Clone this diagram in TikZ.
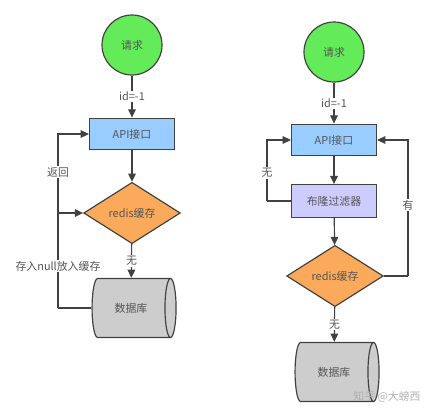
\documentclass[tikz,border=0pt]{standalone}
\usepackage{fontspec}
\setmainfont{Noto Sans CJK SC}
\usetikzlibrary{arrows.meta,shapes.geometric,positioning}
\definecolor{reqgreen}{RGB}{100,235,90}
\definecolor{apiblue}{RGB}{153,204,255}
\definecolor{bloomlav}{RGB}{204,204,255}
\definecolor{cacheorange}{RGB}{250,170,90}
\definecolor{dbgray}{RGB}{205,205,205}
\definecolor{edgegray}{RGB}{65,65,65}
\definecolor{textgray}{RGB}{85,85,85}

\begin{document}
\begin{tikzpicture}[x=0.03cm,y=-0.03cm,
  every node/.style={font=\fontsize{9.3}{11}\selectfont,text=textgray},
  req/.style={circle,draw=edgegray,line width=1pt,fill=reqgreen,minimum size=1.8cm,inner sep=0pt},
  api/.style={rectangle,draw=edgegray,line width=1pt,fill=apiblue,minimum width=2.55cm,minimum height=0.95cm,inner sep=0pt},
  bloom/.style={api,fill=bloomlav,minimum height=0.98cm},
  cache/.style={diamond,draw=edgegray,line width=1pt,fill=cacheorange,minimum width=2.9cm,minimum height=1.84cm,inner sep=0pt,aspect=1.6},
  db/.style={cylinder,draw=edgegray,line width=1pt,fill=dbgray,minimum height=2.52cm,minimum width=1.77cm,shape aspect=1.1,inner sep=0pt},
  flow/.style={draw=edgegray,line width=1pt,-{Triangle[length=7pt,width=6.5pt]}},
  link/.style={draw=edgegray,line width=1pt},
  lbl/.style={fill=white,inner sep=1pt}]
\useasboundingbox (0,0) rectangle (441,416);

\node[req] (req1) at (132,45) {请求};
\node[api] (api1) at (132,134) {API接口};
\node[cache] (cache1) at (132,213) {redis缓存};
\node[db] (db1) at (131,308) {数据库};
\coordinate (back1) at (58,308);

\draw[flow] (req1) -- node[lbl] {id=-1} (api1);
\draw[flow] (api1) -- (cache1);
\draw[flow] (cache1) -- node[lbl] {无} (db1);
\draw[link] (db1.west) -- (back1);
\draw[flow] (back1) |- node[lbl,pos=0.39] {返回} node[lbl,pos=0.12] {存入null放入缓存} (api1.west);
\draw[flow] (back1 |- cache1.west) -- (cache1.west);

\node[req] (req2) at (334,52) {请求};
\node[api] (api2) at (334,140) {API接口};
\node[bloom] (bloom2) at (334,201) {布隆过滤器};
\node[cache] (cache2) at (335,276) {redis缓存};
\node[db] (db2) at (334,372) {数据库};
\coordinate (miss2) at (267,201);
\coordinate (hit2) at (408,276);

\draw[flow] (req2) -- node[lbl] {id=-1} (api2);
\draw[flow] (api2) -- (bloom2);
\draw[flow] (bloom2) -- (cache2);
\draw[flow] (cache2) -- node[lbl] {无} (db2);
\draw[link] (bloom2.west) -- (miss2);
\draw[flow] (miss2) |- node[lbl,pos=0.23] {无} (api2.west);
\draw[link] (cache2.east) -- (hit2);
\draw[flow] (hit2) |- node[lbl,pos=0.26] {有} (api2.east);

\node[text=gray!60] (mark) at (387,397) {知乎 @大螃西};
\end{tikzpicture}
\end{document}
